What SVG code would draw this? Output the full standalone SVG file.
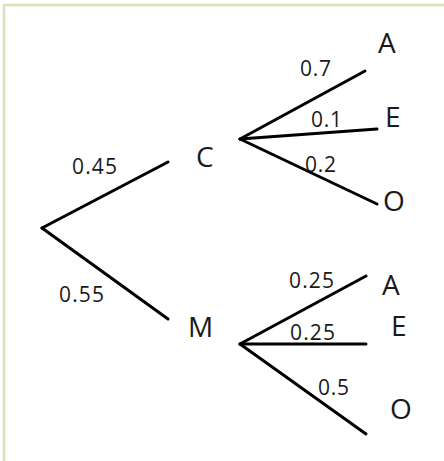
<svg xmlns="http://www.w3.org/2000/svg" width="444" height="461" viewBox="0 0 444 461">
<style>
.edge{stroke:#000;stroke-width:3;stroke-linecap:round;fill:none}
.lbl{font-family:"Open Sans","Liberation Sans",Arial,sans-serif;font-size:28px;fill:#1a1a1a}
.p{font-family:"Open Sans","Liberation Sans",Arial,sans-serif;font-size:21px;fill:#1a1a1a}
</style>
<rect width="444" height="461" fill="#fff"/>
<path d="M4 470 V5 H450" stroke="#d7e4bd" stroke-width="2.5" fill="none"/>
<g id="connectors">
<line class="edge" x1="42" y1="228" x2="168" y2="162"/>
<line class="edge" x1="42" y1="228" x2="168" y2="319"/>
<line class="edge" x1="240" y1="139" x2="365" y2="71"/>
<line class="edge" x1="240" y1="139" x2="377" y2="129"/>
<line class="edge" x1="240" y1="139" x2="377" y2="204"/>
<line class="edge" x1="240" y1="344" x2="366" y2="276"/>
<line class="edge" x1="240" y1="344" x2="366" y2="344"/>
<line class="edge" x1="240" y1="344" x2="366" y2="434"/>
<text class="p" x="72" y="174" textLength="45">0.45</text>
<text class="p" x="59" y="302" textLength="45">0.55</text>
<text class="p" x="300" y="76" textLength="31">0.7</text>
<text class="p" x="311" y="127" textLength="31">0.1</text>
<text class="p" x="305" y="172" textLength="31">0.2</text>
<text class="p" x="289" y="288" textLength="45">0.25</text>
<text class="p" x="290" y="340" textLength="45">0.25</text>
<text class="p" x="318" y="395" textLength="31">0.5</text>
</g>
<g id="node-C"><text class="lbl" x="196" y="167">C</text></g>
<g id="node-M"><text class="lbl" x="188" y="337">M</text></g>
<g id="node-CA"><text class="lbl" x="378" y="53">A</text></g>
<g id="node-CE"><text class="lbl" x="385" y="127">E</text></g>
<g id="node-CO"><text class="lbl" x="383" y="211">O</text></g>
<g id="node-MA"><text class="lbl" x="382" y="295">A</text></g>
<g id="node-ME"><text class="lbl" x="391" y="336">E</text></g>
<g id="node-MO"><text class="lbl" x="390" y="419">O</text></g>
</svg>
